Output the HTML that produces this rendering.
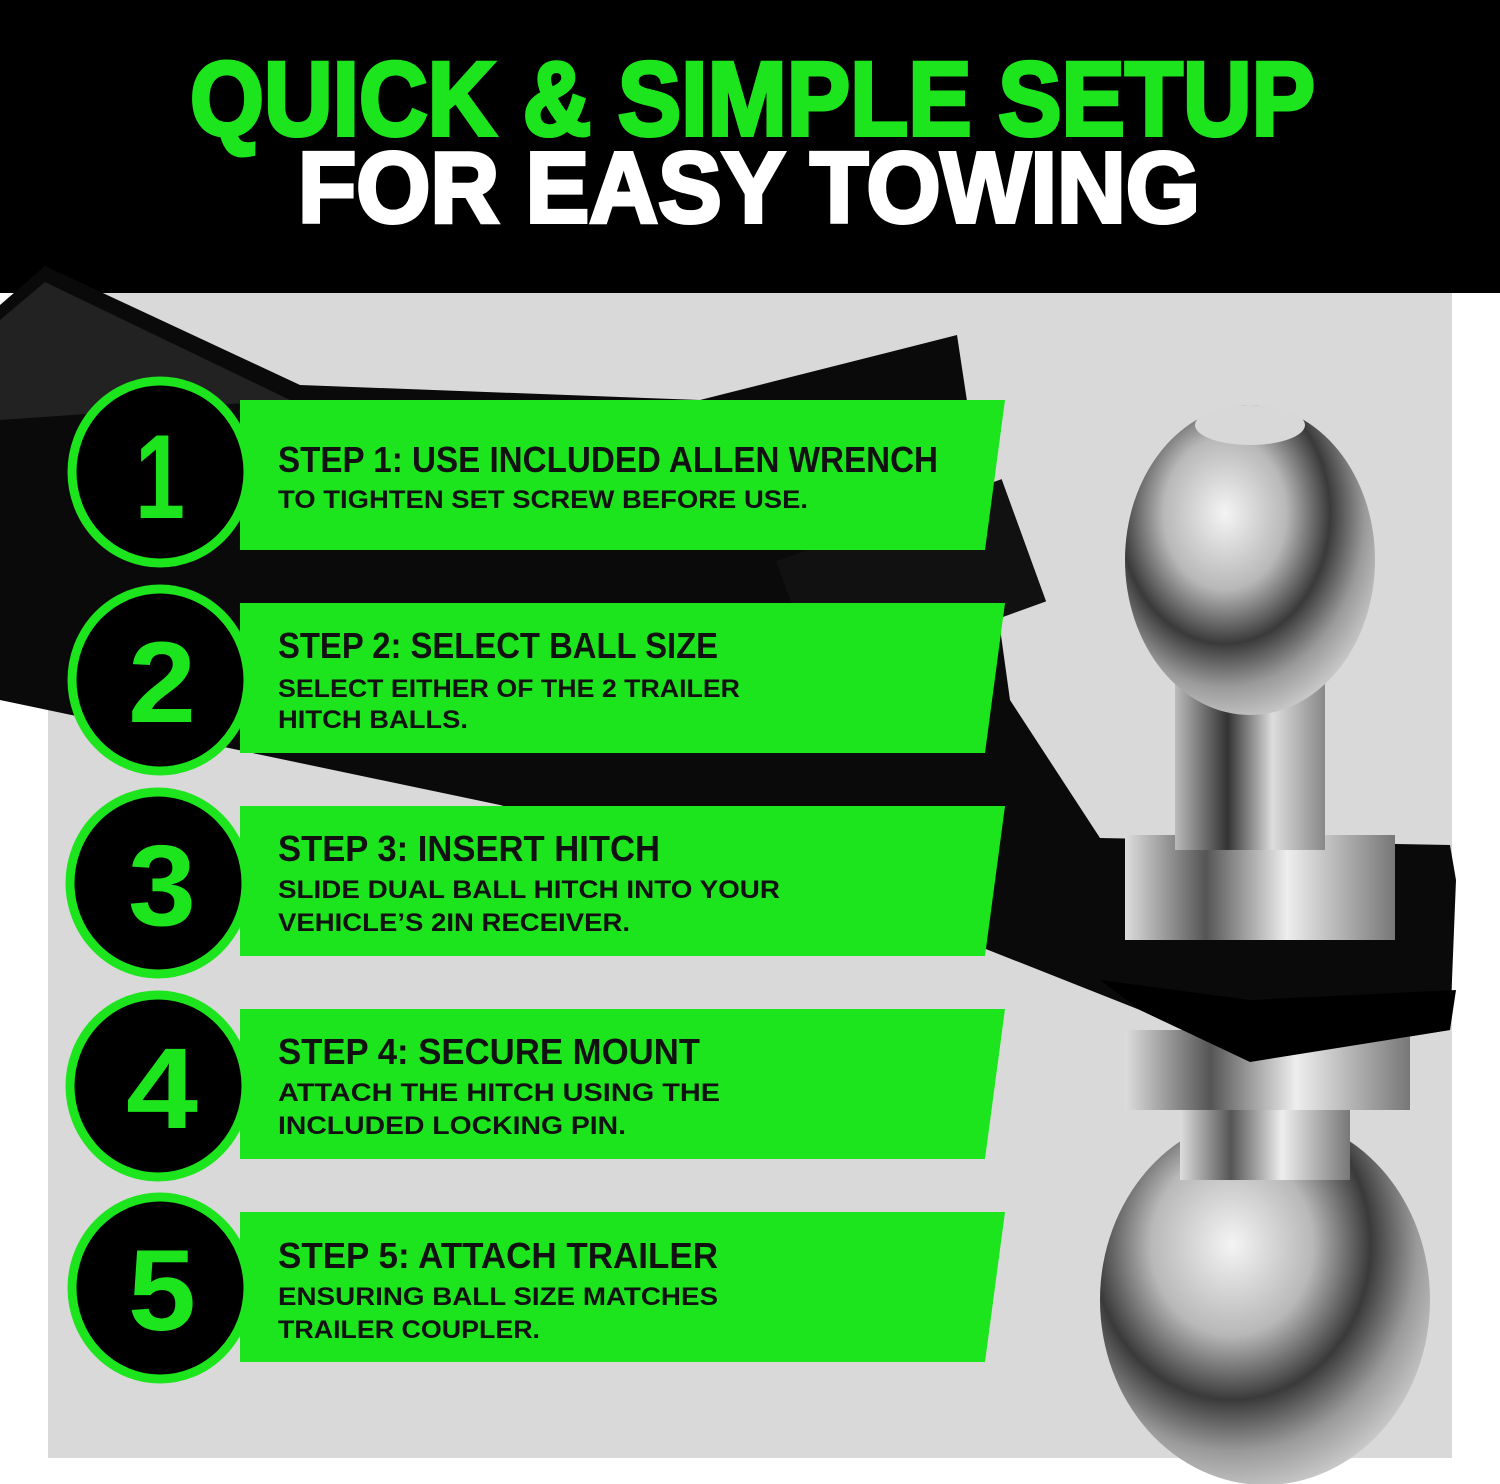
<!DOCTYPE html>
<html><head><meta charset="utf-8"><style>html,body{margin:0;padding:0;background:#fff}svg{display:block}</style></head>
<body>
<svg width="1500" height="1484" viewBox="0 0 1500 1484" xmlns="http://www.w3.org/2000/svg" font-family="Liberation Sans, sans-serif">
<defs>
<radialGradient id="chrome" cx="0.4" cy="0.35" r="0.7">
<stop offset="0" stop-color="#f4f4f4"/><stop offset="0.35" stop-color="#b8b8b8"/><stop offset="0.6" stop-color="#3a3a3a"/><stop offset="0.8" stop-color="#9a9a9a"/><stop offset="1" stop-color="#d0d0d0"/>
</radialGradient>
<linearGradient id="neck" x1="0" x2="1"><stop offset="0" stop-color="#bbb"/><stop offset="0.35" stop-color="#333"/><stop offset="0.65" stop-color="#ddd"/><stop offset="1" stop-color="#888"/></linearGradient>
<linearGradient id="nut" x1="0" x2="1"><stop offset="0" stop-color="#ddd"/><stop offset="0.3" stop-color="#555"/><stop offset="0.6" stop-color="#eee"/><stop offset="1" stop-color="#777"/></linearGradient>
</defs>
<rect width="1500" height="1484" fill="#fff"/>
<rect x="48" y="293" width="1404" height="1165" fill="#d9d9d9"/>
<rect width="1500" height="293" fill="#000"/>
<text x="190" y="135" font-size="105" font-weight="bold" fill="#1de51d" stroke="#1de51d" stroke-width="4" textLength="1125" lengthAdjust="spacingAndGlyphs">QUICK &amp; SIMPLE SETUP</text>
<text x="298" y="222" font-size="100" font-weight="bold" fill="#fff" stroke="#fff" stroke-width="4" textLength="902" lengthAdjust="spacingAndGlyphs">FOR EASY TOWING</text>
<!-- hitch shank -->
<polygon points="0,305 45,266 300,385 700,400 957,335 985,520 1010,700 1100,838 1450,845 1456,880 1450,1030 1250,1062 1140,1010 900,915 500,805 0,700" fill="#0a0a0a"/>
<polygon points="0,320 45,282 290,400 0,420" fill="#222"/>
<rect x="790" y="520" width="240" height="130" fill="#111" transform="rotate(-20 900 580)"/>
<!-- lower ball -->
<ellipse cx="1265" cy="1300" rx="165" ry="185" fill="url(#chrome)"/>
<rect x="1180" y="1100" width="170" height="80" fill="url(#nut)"/>
<rect x="1125" y="1030" width="285" height="80" fill="url(#nut)"/>
<polygon points="1100,980 1250,1000 1456,990 1450,1030 1250,1062 1140,1010" fill="#000"/>
<!-- upper ball -->
<rect x="1125" y="835" width="270" height="105" fill="url(#nut)"/>
<rect x="1175" y="680" width="150" height="170" fill="url(#neck)"/>
<ellipse cx="1250" cy="560" rx="125" ry="155" fill="url(#chrome)"/>
<ellipse cx="1250" cy="425" rx="55" ry="20" fill="#d8d8d8"/>
<!-- steps -->
<g font-weight="bold" fill="#111">
<g>
<polygon points="240,400 1005,400 985,550 240,550" fill="#1de51d"/>
<ellipse cx="160" cy="472" rx="88" ry="91" fill="#000" stroke="#1de51d" stroke-width="9"/>
<text x="160" y="518" font-size="120" fill="#1de51d" text-anchor="middle" textLength="50" lengthAdjust="spacingAndGlyphs">1</text>
<text x="278" y="472" font-size="36" textLength="660" lengthAdjust="spacingAndGlyphs">STEP 1: USE INCLUDED ALLEN WRENCH</text>
<text x="278" y="508" font-size="25" textLength="530" lengthAdjust="spacingAndGlyphs">TO TIGHTEN SET SCREW BEFORE USE.</text>
</g>
<g>
<polygon points="240,603 1005,603 985,753 240,753" fill="#1de51d"/>
<ellipse cx="160" cy="680" rx="88" ry="91" fill="#000" stroke="#1de51d" stroke-width="9"/>
<text x="162" y="722" font-size="115" fill="#1de51d" text-anchor="middle" textLength="68" lengthAdjust="spacingAndGlyphs">2</text>
<text x="278" y="658" font-size="36" textLength="440" lengthAdjust="spacingAndGlyphs">STEP 2: SELECT BALL SIZE</text>
<text x="278" y="697" font-size="25" textLength="462" lengthAdjust="spacingAndGlyphs">SELECT EITHER OF THE 2 TRAILER</text>
<text x="278" y="728" font-size="25" textLength="190" lengthAdjust="spacingAndGlyphs">HITCH BALLS.</text>
</g>
<g>
<polygon points="240,806 1005,806 985,956 240,956" fill="#1de51d"/>
<ellipse cx="158" cy="883" rx="88" ry="91" fill="#000" stroke="#1de51d" stroke-width="9"/>
<text x="162" y="925" font-size="115" fill="#1de51d" text-anchor="middle" textLength="68" lengthAdjust="spacingAndGlyphs">3</text>
<text x="278" y="861" font-size="36" textLength="382" lengthAdjust="spacingAndGlyphs">STEP 3: INSERT HITCH</text>
<text x="278" y="898" font-size="25" textLength="502" lengthAdjust="spacingAndGlyphs">SLIDE DUAL BALL HITCH INTO YOUR</text>
<text x="278" y="931" font-size="25" textLength="352" lengthAdjust="spacingAndGlyphs">VEHICLE’S 2IN RECEIVER.</text>
</g>
<g>
<polygon points="240,1009 1005,1009 985,1159 240,1159" fill="#1de51d"/>
<ellipse cx="158" cy="1086" rx="88" ry="91" fill="#000" stroke="#1de51d" stroke-width="9"/>
<text x="162" y="1128" font-size="115" fill="#1de51d" text-anchor="middle" textLength="72" lengthAdjust="spacingAndGlyphs">4</text>
<text x="278" y="1064" font-size="36" textLength="422" lengthAdjust="spacingAndGlyphs">STEP 4: SECURE MOUNT</text>
<text x="278" y="1101" font-size="25" textLength="442" lengthAdjust="spacingAndGlyphs">ATTACH THE HITCH USING THE</text>
<text x="278" y="1134" font-size="25" textLength="348" lengthAdjust="spacingAndGlyphs">INCLUDED LOCKING PIN.</text>
</g>
<g>
<polygon points="240,1212 1005,1212 985,1362 240,1362" fill="#1de51d"/>
<ellipse cx="160" cy="1288" rx="88" ry="91" fill="#000" stroke="#1de51d" stroke-width="9"/>
<text x="162" y="1330" font-size="115" fill="#1de51d" text-anchor="middle" textLength="68" lengthAdjust="spacingAndGlyphs">5</text>
<text x="278" y="1268" font-size="36" textLength="440" lengthAdjust="spacingAndGlyphs">STEP 5: ATTACH TRAILER</text>
<text x="278" y="1305" font-size="25" textLength="440" lengthAdjust="spacingAndGlyphs">ENSURING BALL SIZE MATCHES</text>
<text x="278" y="1338" font-size="25" textLength="262" lengthAdjust="spacingAndGlyphs">TRAILER COUPLER.</text>
</g>
</g>
</svg>
</body></html>
